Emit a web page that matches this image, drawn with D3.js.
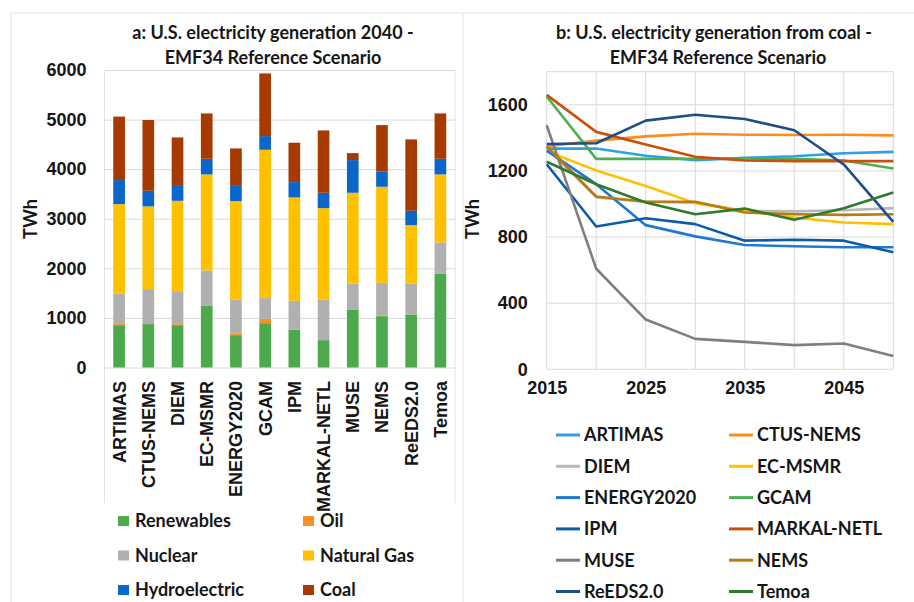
<!DOCTYPE html>
<html><head><meta charset="utf-8">
<script src="https://cdn.jsdelivr.net/npm/d3@7"></script>
<style>
body{margin:0;background:#fff}
svg{display:block;font-family:Lato,"Open Sans",sans-serif;font-weight:700}
</style>
</head><body>
<svg id="c" width="914" height="602"></svg>
<script>
// ---------- Panel a data (TWh, 2040) ----------
const models = ["ARTIMAS","CTUS-NEMS","DIEM","EC-MSMR","ENERGY2020","GCAM","IPM","MARKAL-NETL","MUSE","NEMS","ReEDS2.0","Temoa"];
const sources = ["Renewables","Oil","Nuclear","Natural Gas","Hydroelectric","Coal"];
const sourceColors = ["#4ca94c","#f98e22","#b0b0b0","#ffc000","#0a66c8","#a63a00"];
const renewables   = [855, 875, 854,1244, 652, 894, 760, 551,1170,1036,1069,1890];
const oil          = [ 20,  20,  20,  14,  27,  88,   0,   0,   0,  13,   0,   0];
const nuclear      = [620, 686, 666, 699, 693, 417, 585, 821, 525, 659, 626, 632];
const naturalGas   = [1800,1668,1822,1937,1984,2992,2085,1842,1829,1937,1177,1372];
const hydro        = [485, 316, 317, 316, 323, 276, 309, 310, 659, 309, 289, 316];
const coal         = [1280,1426, 961, 914, 739,1264, 794,1257, 141, 935,1439, 914];
const yTicksA = [0,1000,2000,3000,4000,5000,6000];

// ---------- Panel b data (TWh, coal generation) ----------
const years = [2015,2020,2025,2030,2035,2040,2045,2050];
const xTicksB = [2015,2025,2035,2045];
const yTicksB = [0,400,800,1200,1600];
const lineModels = ["ARTIMAS","CTUS-NEMS","DIEM","EC-MSMR","ENERGY2020","GCAM","IPM","MARKAL-NETL","MUSE","NEMS","ReEDS2.0","Temoa"];
const lineColors = ["#2ea0e3","#ff8c1a","#b8b8b8","#ffc000","#1f78d4","#4caf50","#0a5cab","#c8500a","#7f7f7f","#b97a10","#1d4e89","#2f7a2f"];
const ARTIMAS    = [1335,1335,1292,1265,1279,1289,1307,1315];
const CTUS_NEMS  = [1349,1383,1409,1425,1419,1417,1419,1415];
const DIEM       = [1340,1040,1013,1008, 958, 955, 962, 975];
const EC_MSMR    = [1319,1203,1109,1005, 958, 918, 888, 878];
const ENERGY2020 = [1323,1120, 872, 804, 752, 744, 738, 738];
const GCAM       = [1650,1273,1273,1273,1275,1273,1263,1215];
const IPM        = [1240, 864, 914, 878, 778, 784, 778, 708];
const MARKAL     = [1660,1436,1359,1285,1263,1259,1259,1259];
const MUSE       = [1476, 608, 301, 184, 166, 146, 156,  80];
const NEMS       = [1349,1045,1013,1013, 948, 938, 934, 938];
const ReEDS      = [1363,1367,1504,1540,1514,1446,1239, 892];
const Temoa      = [1255,1119,1009, 938, 972, 904, 974,1069];
const lineSeries = [ARTIMAS,CTUS_NEMS,DIEM,EC_MSMR,ENERGY2020,GCAM,IPM,MARKAL,MUSE,NEMS,ReEDS,Temoa];

const svg = d3.select("#c");
const FS = 18;
const ink = "#161616";
const grid = "#d9d9d9", frame = "#e2e2e2";
svg.attr("fill",ink);

// panel frames
svg.append("line").attr("x1",11).attr("x2",914).attr("y1",13).attr("y2",13).attr("stroke",frame);
svg.append("line").attr("x1",11).attr("x2",11).attr("y1",13).attr("y2",602).attr("stroke",frame);
svg.append("line").attr("x1",463).attr("x2",463).attr("y1",13).attr("y2",602).attr("stroke",frame);

// ================= Panel a =================
const ax = d3.scaleBand().domain(models).range([104.5,455]).paddingInner(0.6).paddingOuter(0.3);
const ay = d3.scaleLinear().domain([0,6000]).range([367.5,70]);
const A = svg.append("g");

A.append("text").attr("x",273).attr("y",39).attr("text-anchor","middle").attr("font-size",FS)
  .text("a: U.S. electricity generation 2040 -");
A.append("text").attr("x",273).attr("y",64).attr("text-anchor","middle").attr("font-size",FS)
  .text("EMF34 Reference Scenario");

// plot-area side borders
A.append("line").attr("x1",104.5).attr("x2",104.5).attr("y1",70).attr("y2",503).attr("stroke",frame);
A.append("line").attr("x1",455).attr("x2",455).attr("y1",70).attr("y2",503).attr("stroke",frame);

const ayAxis = d3.axisLeft(ay).tickValues(yTicksA).tickFormat(d3.format("d"))
  .tickSize(-(455-104.5)).tickPadding(18);
const gya = A.append("g").attr("transform","translate(104.5,0)").call(ayAxis);
gya.select(".domain").remove();
gya.selectAll(".tick line").attr("stroke",grid);
gya.selectAll(".tick text").attr("font-size",FS).attr("font-family","inherit").attr("fill",ink);

const table = models.map((m,i)=>({model:m,"Renewables":renewables[i],"Oil":oil[i],"Nuclear":nuclear[i],
  "Natural Gas":naturalGas[i],"Hydroelectric":hydro[i],"Coal":coal[i]}));
const stacked = d3.stack().keys(sources)(table);
A.selectAll("g.layer").data(stacked).join("g").attr("class","layer")
  .attr("fill",(d,i)=>sourceColors[i])
  .selectAll("rect").data(d=>d).join("rect")
  .attr("x",d=>ax(d.data.model)).attr("width",ax.bandwidth())
  .attr("y",d=>ay(d[1])).attr("height",d=>Math.max(0,ay(d[0])-ay(d[1])));

const axAxis = d3.axisBottom(ax).tickSize(0).tickPadding(0);
const gxa = A.append("g").attr("transform","translate(0,381)").call(axAxis);
gxa.select(".domain").remove();
gxa.selectAll(".tick text").attr("font-size",FS).attr("font-family","inherit").attr("fill",ink)
  .attr("transform","rotate(-90)").attr("text-anchor","end").attr("x",0).attr("y",0).attr("dy","0.36em");

A.append("text").attr("transform","translate(37,219) rotate(-90)").attr("text-anchor","middle")
  .attr("font-size",FS).text("TWh");

// legend a
const legA = [["Renewables",0,0],["Oil",1,0],["Nuclear",0,1],["Natural Gas",1,1],["Hydroelectric",0,2],["Coal",1,2]];
const lgA = A.selectAll("g.lga").data(legA).join("g").attr("class","lga")
  .attr("transform",d=>`translate(${d[1]?303:118},${521+d[2]*34.5})`);
lgA.append("rect").attr("x",0).attr("y",-5).attr("width",11).attr("height",10)
  .attr("fill",d=>sourceColors[sources.indexOf(d[0])]);
lgA.append("text").attr("x",17).attr("y",0).attr("dy","0.36em").attr("font-size",FS).text(d=>d[0]);

// ================= Panel b =================
const bx = d3.scaleLinear().domain([2015,2050]).range([546.7,893.3]);
const by = d3.scaleLinear().domain([0,1800]).range([369.3,71.7]);
const B = svg.append("g");

B.append("text").attr("x",714).attr("y",39).attr("text-anchor","middle").attr("font-size",FS)
  .text("b: U.S. electricity generation from coal -");
B.append("text").attr("x",718).attr("y",64).attr("text-anchor","middle").attr("font-size",FS)
  .text("EMF34 Reference Scenario");

// grid
B.selectAll("line.vg").data(years).join("line").attr("class","vg")
  .attr("x1",d=>bx(d)).attr("x2",d=>bx(d)).attr("y1",by(1800)).attr("y2",by(0)).attr("stroke",grid);
B.selectAll("line.hg").data(yTicksB.concat([1800])).join("line").attr("class","hg")
  .attr("x1",bx(2015)).attr("x2",bx(2050)).attr("y1",d=>by(d)).attr("y2",d=>by(d)).attr("stroke",grid);

const gyb = B.append("g").attr("transform",`translate(${bx(2015)},0)`)
  .call(d3.axisLeft(by).tickValues(yTicksB).tickFormat(d3.format("d")).tickSize(0).tickPadding(19));
gyb.select(".domain").remove();
gyb.selectAll(".tick text").attr("font-size",FS).attr("font-family","inherit").attr("fill",ink);

const gxb = B.append("g").attr("transform",`translate(0,${by(0)})`)
  .call(d3.axisBottom(bx).tickValues(xTicksB).tickFormat(d3.format("d")).tickSize(0).tickPadding(12));
gxb.select(".domain").remove();
gxb.selectAll(".tick text").attr("font-size",FS).attr("font-family","inherit").attr("fill",ink);

B.append("text").attr("transform","translate(479,219) rotate(-90)").attr("text-anchor","middle")
  .attr("font-size",FS).text("TWh");

const line = d3.line().x((d,i)=>bx(years[i])).y(d=>by(d));
B.selectAll("path.ser").data(lineSeries).join("path").attr("class","ser")
  .attr("d",line).attr("fill","none").attr("stroke",(d,i)=>lineColors[i])
  .attr("stroke-width",2.6).attr("stroke-linejoin","round");

// legend b
const lgB = B.selectAll("g.lgb").data(lineModels).join("g").attr("class","lgb")
  .attr("transform",(d,i)=>`translate(${i%2?729:556},${435+Math.floor(i/2)*31.3})`);
lgB.append("line").attr("x1",0).attr("x2",24).attr("y1",0).attr("y2",0)
  .attr("stroke",(d,i)=>lineColors[i]).attr("stroke-width",3);
lgB.append("text").attr("x",28).attr("y",0).attr("dy","0.36em").attr("font-size",FS).text(d=>d);
</script>
</body></html>
